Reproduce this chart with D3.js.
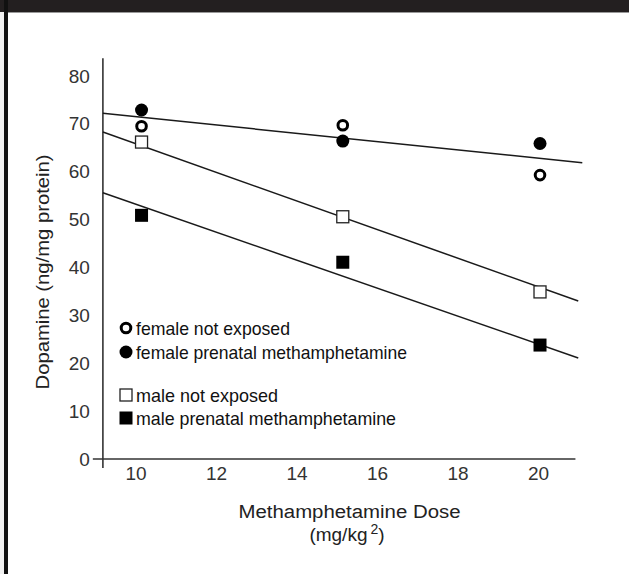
<!DOCTYPE html>
<html>
<head>
<meta charset="utf-8">
<script src="https://cdn.jsdelivr.net/npm/d3@7"></script>
<style>
  html, body { margin: 0; padding: 0; background: #fff; }
  svg { display: block; }
  text { font-family: "Liberation Sans", Arial, Helvetica, sans-serif; }
</style>
</head>
<body>
<svg id="chart" width="629" height="574"></svg>
<script>
// ---- data ----
const doses = [10.15, 15.15, 20.05];
const femaleNotExposed = [69.5, 69.7, 59.3];
const femalePrenatal = [72.9, 66.4, 65.9];
const maleNotExposed = [66.2, 50.6, 34.9];
const malePrenatal = [50.9, 41.1, 23.8];

// fitted trend lines: [x, y] endpoints
const femaleFit = [[9.19, 72.2], [21.1, 61.9]];
const maleNotExposedFit = [[9.19, 68.3], [21.0, 33.0]];
const malePrenatalFit = [[9.19, 55.6], [21.0, 21.1]];

const xTicks = [10, 12, 14, 16, 18, 20];
const yTicks = [0, 10, 20, 30, 40, 50, 60, 70, 80];

const legendLabels = ["female not exposed", "female prenatal methamphetamine", "male not exposed", "male prenatal methamphetamine"];
const xTitle = ["Methamphetamine Dose", "(mg/kg", "2", ")"];
const yTitle = "Dopamine (ng/mg protein)";

// ---- drawing ----
const svg = d3.select("#chart");

// frame decorations
svg.append("rect").attr("x", 0).attr("y", 0).attr("width", 629).attr("height", 12).attr("fill", "#231f20");
svg.append("rect").attr("x", 0).attr("y", 12).attr("width", 4).attr("height", 562).attr("fill", "#f2f2f2");
svg.append("rect").attr("x", 4).attr("y", 0).attr("width", 4).attr("height", 574).attr("fill", "#111");
svg.append("line").attr("x1", 8).attr("x2", 629).attr("y1", 12.5).attr("y2", 12.5).attr("stroke", "#999").attr("stroke-width", 1);

const x = d3.scaleLinear().domain([9, 21]).range([95.25, 578.25]);
const y = d3.scaleLinear().domain([0, 80]).range([459, 76]);

const axisColor = "#333";

// axis lines (cross style)
svg.append("line")
  .attr("x1", x(9.19)).attr("x2", x(9.19))
  .attr("y1", y(83.7)).attr("y2", y(-1.9))
  .attr("stroke", axisColor).attr("stroke-width", 1.6);
svg.append("line")
  .attr("x1", x(8.94)).attr("x2", x(20.93))
  .attr("y1", y(0)).attr("y2", y(0))
  .attr("stroke", axisColor).attr("stroke-width", 1.6);

// y axis tick labels
const yAxis = d3.axisLeft(y).tickValues(yTicks).tickSize(0).tickPadding(13).tickFormat(d3.format("d"));
const gy = svg.append("g").attr("transform", `translate(${x(9.19)},0)`).call(yAxis);
gy.select(".domain").remove();
gy.selectAll("text").attr("font-size", 19).attr("fill", "#333")
  .style("font-family", '"Liberation Sans", Arial, sans-serif');

// x axis tick labels
const xAxis = d3.axisBottom(x).tickValues(xTicks).tickSize(0).tickPadding(8).tickFormat(d3.format("d"));
const gx = svg.append("g").attr("transform", `translate(0,${y(0)})`).call(xAxis);
gx.select(".domain").remove();
gx.selectAll("text").attr("font-size", 19).attr("fill", "#333")
  .style("font-family", '"Liberation Sans", Arial, sans-serif');

// x title
svg.append("text")
  .attr("x", 349.5).attr("y", 518)
  .attr("text-anchor", "middle")
  .attr("font-size", 18).attr("fill", "#222")
  .attr("textLength", 222).attr("lengthAdjust", "spacingAndGlyphs")
  .text(xTitle[0]);
const t2 = svg.append("text")
  .attr("x", 347).attr("y", 541)
  .attr("text-anchor", "middle")
  .attr("font-size", 19).attr("fill", "#222");
t2.append("tspan").text(xTitle[1]);
t2.append("tspan").attr("font-size", 14).attr("dx", 3).attr("dy", -7).text(xTitle[2]);
t2.append("tspan").attr("dy", 7).text(xTitle[3]);

// y title
svg.append("text")
  .attr("transform", "translate(49,272) rotate(-90)")
  .attr("text-anchor", "middle")
  .attr("font-size", 18).attr("fill", "#222")
  .attr("textLength", 235).attr("lengthAdjust", "spacingAndGlyphs")
  .text(yTitle);

// trend lines
const line = d3.line().x(d => x(d[0])).y(d => y(d[1]));
[femaleFit, maleNotExposedFit, malePrenatalFit].forEach(f => {
  svg.append("path").attr("d", line(f)).attr("fill", "none")
    .attr("stroke", "#1a1a1a").attr("stroke-width", 1.5);
});

// markers
function openCircle(g, cx, cy) {
  g.append("circle").attr("cx", cx).attr("cy", cy).attr("r", 4.8)
    .attr("fill", "#fff").attr("stroke", "#000").attr("stroke-width", 3);
}
function filledCircle(g, cx, cy) {
  g.append("circle").attr("cx", cx).attr("cy", cy).attr("r", 6.5).attr("fill", "#000");
}
function openSquare(g, cx, cy) {
  g.append("rect").attr("x", cx - 6).attr("y", cy - 6).attr("width", 12).attr("height", 12)
    .attr("fill", "#fff").attr("stroke", "#222").attr("stroke-width", 1.3);
}
function filledSquare(g, cx, cy) {
  g.append("rect").attr("x", cx - 6.5).attr("y", cy - 6.5).attr("width", 13).attr("height", 13).attr("fill", "#000");
}

const mg = svg.append("g");
doses.forEach((d, i) => {
  openSquare(mg, x(d), y(maleNotExposed[i]));
  filledSquare(mg, x(d), y(malePrenatal[i]));
  filledCircle(mg, x(d), y(femalePrenatal[i]));
  openCircle(mg, x(d), y(femaleNotExposed[i]));
});

// legend
const legend = svg.append("g");
const legendRows = [
  { y: 328, draw: openCircle, w: 154 },
  { y: 352, draw: filledCircle, w: 271 },
  { y: 395, draw: openSquare, w: 142 },
  { y: 418, draw: filledSquare, w: 260 }
];
legendRows.forEach((r, i) => {
  r.draw(legend, 126, r.y);
  legend.append("text")
    .attr("x", 136).attr("y", r.y + 6.5)
    .attr("font-size", 19).attr("fill", "#111")
    .style("font-family", '"Liberation Sans Narrow", "Arial Narrow", "Liberation Sans", Arial, sans-serif')
    .attr("textLength", r.w).attr("lengthAdjust", "spacingAndGlyphs")
    .text(legendLabels[i]);
});
</script>
</body>
</html>
